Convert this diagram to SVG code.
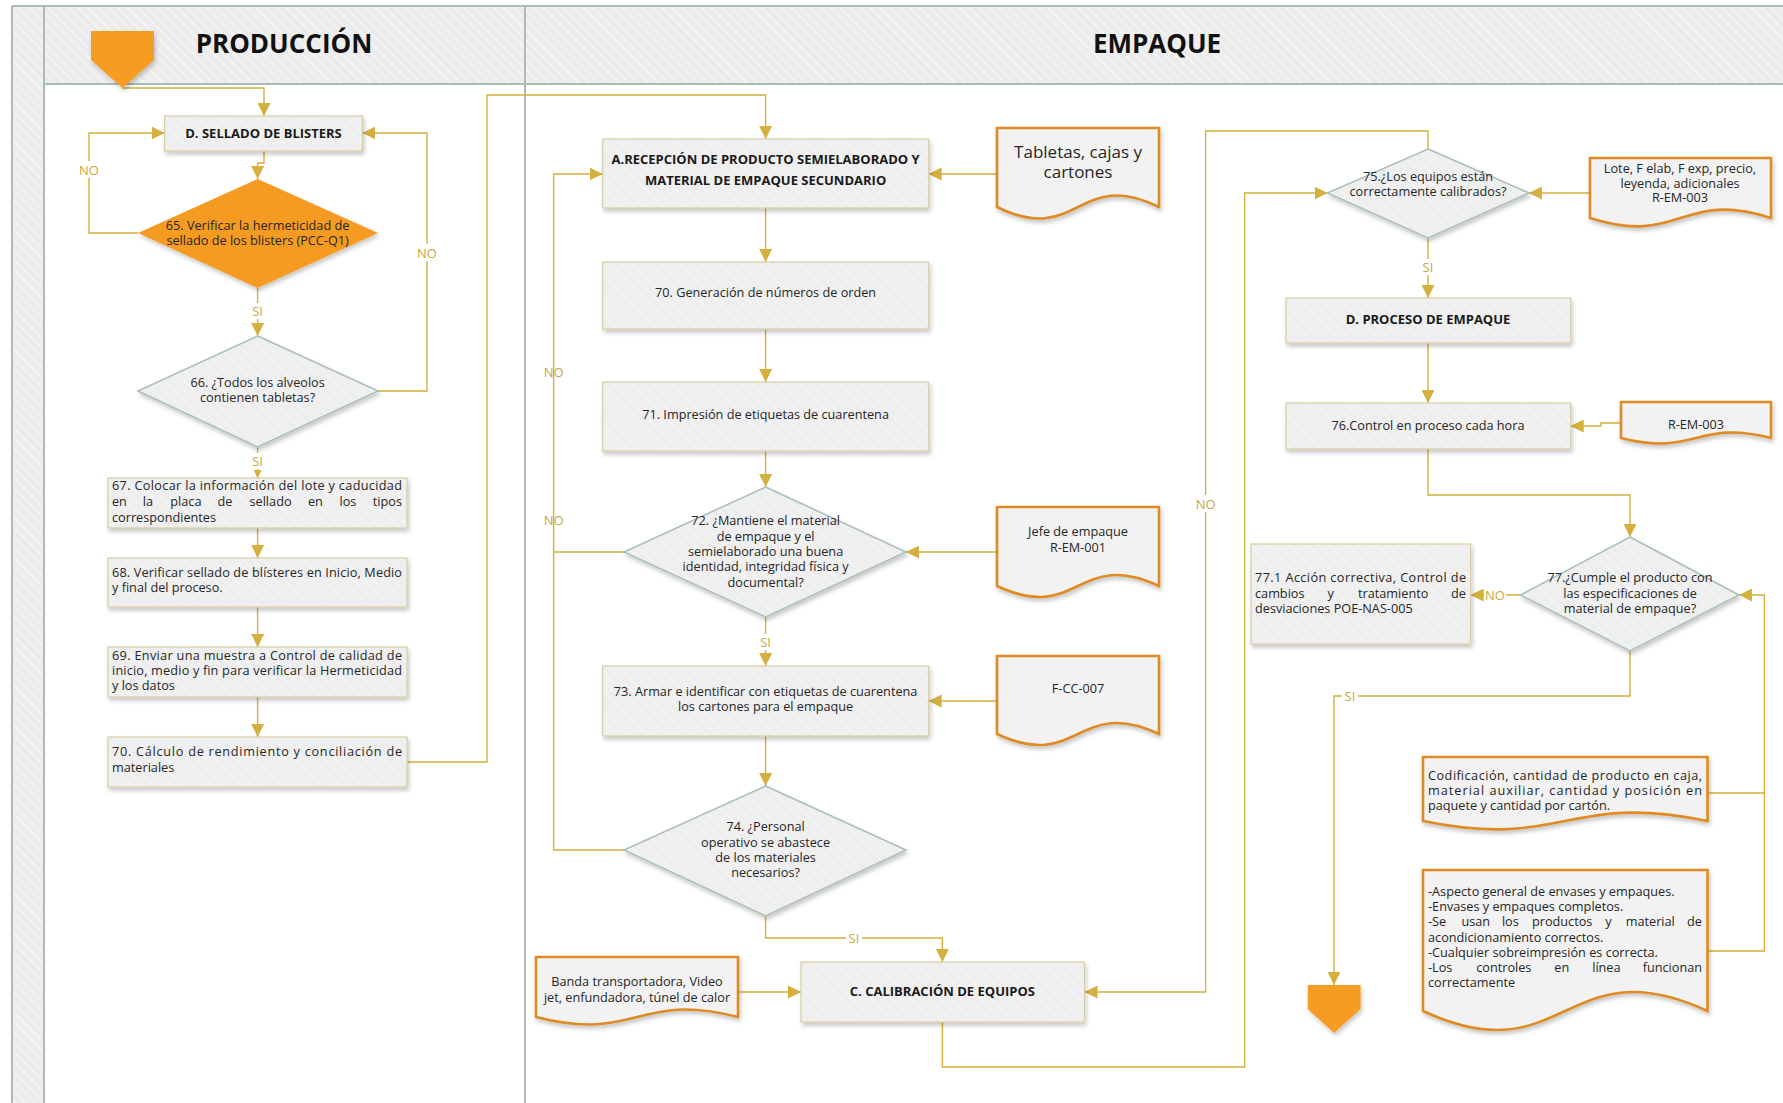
<svg xmlns="http://www.w3.org/2000/svg" width="1783" height="1103" viewBox="0 0 1783 1103">
  <defs>
    <pattern id="hatch" width="7" height="7" patternUnits="userSpaceOnUse" patternTransform="rotate(-45)">
      <rect width="7" height="7" fill="#ececec"/>
      <rect width="1.6" height="7" fill="#f5f5f5"/>
    </pattern>
    <pattern id="hatchBox" width="7" height="7" patternUnits="userSpaceOnUse" patternTransform="rotate(-45)">
      <rect width="7" height="7" fill="#eeeeee"/>
      <rect width="1.4" height="7" fill="#f4f4f4"/>
    </pattern>
    <filter id="shadow" x="-10%" y="-10%" width="125%" height="135%">
      <feDropShadow dx="1.5" dy="3" stdDeviation="2" flood-color="#000" flood-opacity="0.22"/>
    </filter>
    <marker id="ah" viewBox="0 0 13 13" refX="13" refY="6.5" markerWidth="13" markerHeight="13" orient="auto" markerUnits="userSpaceOnUse">
      <path d="M0,0 L13,6.5 L0,13 z" fill="#d4b03e"/>
    </marker>
    <marker id="ahs" viewBox="0 0 8 8" refX="8" refY="4" markerWidth="8" markerHeight="8" orient="auto" markerUnits="userSpaceOnUse">
      <path d="M0,0 L8,4 L0,8 z" fill="#d4b03e"/>
    </marker>
  </defs>
  <style>
    .lane { stroke: #a9bcb7; stroke-width: 2; fill: none; }
    .box { fill: url(#hatchBox); stroke: #d8cda6; stroke-width: 1.2; filter: url(#shadow); }
    .dia { fill: url(#hatchBox); stroke: #a8c0b6; stroke-width: 1.5; filter: url(#shadow); }
    .doc { fill: #f2f2f2; stroke: #df8a24; stroke-width: 2.6; filter: url(#shadow); }
    .term { fill: #f79c20; filter: url(#shadow); }
    .con { fill: none; stroke: #d4b03e; stroke-width: 1.4; }
    .t { font-family: "Open Sans", "Noto Sans", sans-serif; font-size: 12.7px; fill: #262626; }
    .c { text-anchor: middle; }
    .e { text-anchor: end; }
    .b { font-weight: bold; font-size: 13px; fill: #1a1a1a; }
    .h { font-family: "Open Sans", "Noto Sans", sans-serif; font-weight: bold; font-size: 26px; fill: #111; text-anchor: middle; }
    .lbl { font-family: "Open Sans", "Noto Sans", sans-serif; font-size: 13px; fill: #c9a73a; text-anchor: middle; }
    .lblbg { fill: #ffffff; }
  </style>

  <!-- swimlane frame -->
  <g id="lanes">
    <rect x="0" y="0" width="1783" height="1103" fill="#ffffff"/>
    <rect x="12" y="6" width="32" height="1097" fill="url(#hatch)"/>
    <rect x="44" y="6" width="1739" height="78" fill="url(#hatch)"/>
    <path class="lane" d="M12,6 V1103 M44,6 V1103 M525,6 V1103 M12,6 H1783 M44,84 H1783"/>
    <text class="h" x="284" y="52.5">PRODUCCIÓN</text>
    <text class="h" x="1157" y="52.5">EMPAQUE</text>
  </g>

  <!-- connectors -->
  <g id="connectors">
    <path class="con" d="M122.5,88 H264 V116" marker-end="url(#ah)"/>
    <path class="con" d="M264,151 V163 H257.6 V179" marker-end="url(#ah)"/>
    <path class="con" d="M138,233 H89 V133 H164.6" marker-end="url(#ah)"/>
    <path class="con" d="M257.6,288 V336" marker-end="url(#ah)"/>
    <path class="con" d="M378,391 H427 V133 H362.4" marker-end="url(#ah)"/>
    <path class="con" d="M257.6,447 V478" marker-end="url(#ahs)"/>
    <path class="con" d="M257.6,528 V558" marker-end="url(#ah)"/>
    <path class="con" d="M257.6,607 V647" marker-end="url(#ah)"/>
    <path class="con" d="M257.6,697 V737" marker-end="url(#ah)"/>
    <path class="con" d="M407,762 H487 V95 H765.6 V139" marker-end="url(#ah)"/>
    <path class="con" d="M997,174 H928.6" marker-end="url(#ah)"/>
    <path class="con" d="M765.6,208 V262" marker-end="url(#ah)"/>
    <path class="con" d="M765.6,329 V382" marker-end="url(#ah)"/>
    <path class="con" d="M765.6,451 V487" marker-end="url(#ah)"/>
    <path class="con" d="M624,552 H553.6 V174 H602.7" marker-end="url(#ah)"/>
    <path class="con" d="M624,850 H553.6 V552"/>
    <path class="con" d="M997,552 H906" marker-end="url(#ah)"/>
    <path class="con" d="M765.6,617 V666" marker-end="url(#ah)"/>
    <path class="con" d="M997,701 H928.6" marker-end="url(#ah)"/>
    <path class="con" d="M765.6,736 V786" marker-end="url(#ah)"/>
    <path class="con" d="M765.6,916 V938 H942.4 V962" marker-end="url(#ah)"/>
    <path class="con" d="M738,992 H801" marker-end="url(#ah)"/>
    <path class="con" d="M1428,149 V131 H1205.6 V992 H1084.5" marker-end="url(#ah)"/>
    <path class="con" d="M942.4,1022 V1067 H1244.6 V193 H1327.5" marker-end="url(#ah)"/>
    <path class="con" d="M1589.6,193 H1529" marker-end="url(#ah)"/>
    <path class="con" d="M1428,238 V298" marker-end="url(#ah)"/>
    <path class="con" d="M1428,343 V403" marker-end="url(#ah)"/>
    <path class="con" d="M1621,423 H1600.8 V426 H1570.7" marker-end="url(#ah)"/>
    <path class="con" d="M1428,449 V495 H1630 V537" marker-end="url(#ah)"/>
    <path class="con" d="M1520.5,595 H1470.7" marker-end="url(#ah)"/>
    <path class="con" d="M1630,651 V696 H1334 V985" marker-end="url(#ah)"/>
    <path class="con" d="M1707.5,793 H1764.4 V595 H1739" marker-end="url(#ah)"/>
    <path class="con" d="M1707.5,951 H1764.4 V793"/>

    <!-- branch labels -->
    <rect class="lblbg" x="78" y="161" width="22" height="17"/>
    <text class="lbl" x="89" y="175">NO</text>
    <rect class="lblbg" x="416" y="244" width="22" height="17"/>
    <text class="lbl" x="427" y="258">NO</text>
    <rect class="lblbg" x="250" y="303" width="15" height="16"/>
    <text class="lbl" x="257.6" y="316">SI</text>
    <rect class="lblbg" x="250" y="453" width="15" height="16"/>
    <text class="lbl" x="257.6" y="466">SI</text>
    <text class="lbl" x="553.6" y="377">NO</text>
    <text class="lbl" x="553.6" y="525">NO</text>
    <rect class="lblbg" x="758" y="634" width="15" height="16"/>
    <text class="lbl" x="765.6" y="647">SI</text>
    <rect class="lblbg" x="846" y="930" width="16" height="16"/>
    <text class="lbl" x="854" y="943">SI</text>
    <rect class="lblbg" x="1195" y="495" width="22" height="17"/>
    <text class="lbl" x="1205.6" y="509">NO</text>
    <rect class="lblbg" x="1420" y="259" width="16" height="16"/>
    <text class="lbl" x="1428" y="272">SI</text>
    <rect class="lblbg" x="1484" y="587" width="22" height="16"/>
    <text class="lbl" x="1495" y="600">NO</text>
    <rect class="lblbg" x="1342" y="688" width="16" height="16"/>
    <text class="lbl" x="1350" y="701">SI</text>
  </g>

  <!-- PRODUCCIÓN lane -->
  <g id="start">
    <path class="term" d="M91,31 H154 V60 L122.5,88 L91,60 Z"/>
  </g>
  <g id="n-sellado">
    <rect class="box" x="164.6" y="116" width="197.8" height="35"/>
    <text class="t b c" x="263.5" y="138">D. SELLADO DE BLISTERS</text>
  </g>
  <g id="n65">
    <path d="M257.6,179 L378,233 L257.6,288 L138,233 Z" fill="#f59b22" filter="url(#shadow)"/>
    <text class="t c" x="257.6" y="229.5">65. Verificar la hermeticidad de</text>
    <text class="t c" x="257.6" y="244.5">sellado de los blisters (PCC-Q1)</text>
  </g>
  <g id="n66">
    <path class="dia" d="M257.6,336 L378,391 L257.6,447 L138,391 Z"/>
    <text class="t c" x="257.6" y="387">66. ¿Todos los alveolos</text>
    <text class="t c" x="257.6" y="402">contienen tabletas?</text>
  </g>
  <g id="n67">
    <rect class="box" x="108" y="478" width="299" height="50"/>
    <text class="t" x="112" y="489.5" textLength="290" lengthAdjust="spacing">67. Colocar la información del lote y caducidad</text>
    <text class="t" y="505.5"><tspan x="112">en</tspan><tspan x="142.7">la</tspan><tspan x="170.3">placa</tspan><tspan x="217.4">de</tspan><tspan x="249.5">sellado</tspan><tspan x="308">en</tspan><tspan x="339.5">los</tspan></text>
    <text class="t e" x="402" y="505.5">tipos</text>
    <text class="t" x="112" y="521.5">correspondientes</text>
  </g>
  <g id="n68">
    <rect class="box" x="108" y="558" width="299" height="49"/>
    <text class="t" x="112" y="577" textLength="290" lengthAdjust="spacing">68. Verificar sellado de blísteres en Inicio, Medio</text>
    <text class="t" x="112" y="592">y final del proceso.</text>
  </g>
  <g id="n69">
    <rect class="box" x="108" y="647" width="299" height="50"/>
    <text class="t" x="112" y="660" textLength="290" lengthAdjust="spacing">69. Enviar una muestra a Control de calidad de</text>
    <text class="t" x="112" y="675" textLength="290" lengthAdjust="spacing">inicio, medio y fin para verificar la Hermeticidad</text>
    <text class="t" x="112" y="690">y los datos</text>
  </g>
  <g id="n70p">
    <rect class="box" x="108" y="737" width="299" height="50"/>
    <text class="t" x="112" y="756" textLength="290" lengthAdjust="spacing">70. Cálculo de rendimiento y conciliación de</text>
    <text class="t" x="112" y="772">materiales</text>
  </g>

  <!-- EMPAQUE lane: reception and labelling -->
  <g id="nA">
    <rect class="box" x="602.7" y="139" width="326" height="69"/>
    <text class="t b c" x="765.6" y="163.5">A.RECEPCIÓN DE PRODUCTO SEMIELABORADO Y</text>
    <text class="t b c" x="765.6" y="184.5">MATERIAL DE EMPAQUE SECUNDARIO</text>
  </g>
  <g id="doc-tabletas">
    <path class="doc" d="M997,128 H1159 V207 C1078,167 1078,247 997,207 Z"/>
    <text class="t c" x="1078" y="158" style="font-size:17px">Tabletas, cajas y</text>
    <text class="t c" x="1078" y="178" style="font-size:17px">cartones</text>
  </g>
  <g id="n70e">
    <rect class="box" x="602.7" y="262" width="326" height="67"/>
    <text class="t c" x="765.6" y="297">70. Generación de números de orden</text>
  </g>
  <g id="n71">
    <rect class="box" x="602.7" y="382" width="326" height="69"/>
    <text class="t c" x="765.6" y="419">71. Impresión de etiquetas de cuarentena</text>
  </g>
  <g id="n72">
    <path class="dia" d="M765.6,487 L906,552 L765.6,617 L624,552 Z"/>
    <text class="t c" x="765.6" y="525">72. ¿Mantiene el material</text>
    <text class="t c" x="765.6" y="540.5">de empaque y el</text>
    <text class="t c" x="765.6" y="556">semielaborado una buena</text>
    <text class="t c" x="765.6" y="571">identidad, integridad física y</text>
    <text class="t c" x="765.6" y="586.5">documental?</text>
  </g>
  <g id="doc-jefe">
    <path class="doc" d="M997,507 H1159 V586 C1078,548 1078,624 997,586 Z"/>
    <text class="t c" x="1078" y="536">Jefe de empaque</text>
    <text class="t c" x="1078" y="552">R-EM-001</text>
  </g>
  <g id="n73">
    <rect class="box" x="602.7" y="666" width="326" height="70"/>
    <text class="t c" x="765.6" y="696">73. Armar e identificar con etiquetas de cuarentena</text>
    <text class="t c" x="765.6" y="711">los cartones para el empaque</text>
  </g>
  <g id="doc-fcc007">
    <path class="doc" d="M997,656 H1159 V734 C1078,696 1078,772 997,734 Z"/>
    <text class="t c" x="1078" y="693">F-CC-007</text>
  </g>
  <g id="n74">
    <path class="dia" d="M765.6,786 L906,850 L765.6,916 L624,850 Z"/>
    <text class="t c" x="765.6" y="831">74. ¿Personal</text>
    <text class="t c" x="765.6" y="846.5">operativo se abastece</text>
    <text class="t c" x="765.6" y="862">de los materiales</text>
    <text class="t c" x="765.6" y="876.5">necesarios?</text>
  </g>

  <!-- EMPAQUE lane: calibration and packing -->
  <g id="doc-banda">
    <path class="doc" d="M536,957 H738 V1017 C637,991 637,1043 536,1017 Z"/>
    <text class="t c" x="637" y="986">Banda transportadora, Video</text>
    <text class="t c" x="637" y="1002">jet, enfundadora, túnel de calor</text>
  </g>
  <g id="nC">
    <rect class="box" x="801" y="962" width="283.5" height="60"/>
    <text class="t b c" x="942.4" y="995.5">C. CALIBRACIÓN DE EQUIPOS</text>
  </g>
  <g id="n75">
    <path class="dia" d="M1428,149 L1529,193 L1428,238 L1327.5,193 Z"/>
    <text class="t c" x="1428" y="181">75.¿Los equipos están</text>
    <text class="t c" x="1428" y="195.5">correctamente calibrados?</text>
  </g>
  <g id="doc-lote">
    <path class="doc" d="M1590,158 H1771 V218 C1680.5,189 1680.5,247 1590,218 Z"/>
    <text class="t c" x="1680" y="173">Lote, F elab, F exp, precio,</text>
    <text class="t c" x="1680" y="187.5">leyenda, adicionales</text>
    <text class="t c" x="1680" y="202">R-EM-003</text>
  </g>
  <g id="nD">
    <rect class="box" x="1286" y="298" width="284.7" height="45"/>
    <text class="t b c" x="1428" y="323.5">D. PROCESO DE EMPAQUE</text>
  </g>
  <g id="n76">
    <rect class="box" x="1286" y="403" width="284.7" height="46"/>
    <text class="t c" x="1428" y="429.5">76.Control en proceso cada hora</text>
  </g>
  <g id="doc-rem003">
    <path class="doc" d="M1621,402 H1771 V438 C1696,419 1696,457 1621,438 Z"/>
    <text class="t c" x="1696" y="428.5">R-EM-003</text>
  </g>
  <g id="n77">
    <path class="dia" d="M1630,537 L1739,595 L1630,651 L1520.5,595 Z"/>
    <text class="t c" x="1630" y="582">77.¿Cumple el producto con</text>
    <text class="t c" x="1630" y="597.5">las especificaciones de</text>
    <text class="t c" x="1630" y="613">material de empaque?</text>
  </g>
  <g id="n771">
    <rect class="box" x="1251" y="544" width="219.7" height="100"/>
    <text class="t" x="1255" y="582" textLength="211" lengthAdjust="spacing">77.1 Acción correctiva, Control de</text>
    <text class="t" y="597.5"><tspan x="1255">cambios</tspan><tspan x="1327.5">y</tspan><tspan x="1358">tratamiento</tspan></text>
    <text class="t e" x="1466" y="597.5">de</text>
    <text class="t" x="1255" y="613">desviaciones POE-NAS-005</text>
  </g>
  <g id="doc-codificacion">
    <path class="doc" d="M1423,757 H1707.5 V821 C1565,792 1565,850 1423,821 Z"/>
    <text class="t" x="1428" y="780" textLength="274" lengthAdjust="spacing">Codificación, cantidad de producto en caja,</text>
    <text class="t" x="1428" y="795" textLength="274" lengthAdjust="spacing">material auxiliar, cantidad y posición en</text>
    <text class="t" x="1428" y="810">paquete y cantidad por cartón.</text>
  </g>
  <g id="doc-aspecto">
    <path class="doc" d="M1423,870 H1707.5 V1011 C1565,945 1565,1077 1423,1011 Z"/>
    <text class="t" x="1428" y="896">-Aspecto general de envases y empaques.</text>
    <text class="t" x="1428" y="911">-Envases y empaques completos.</text>
    <text class="t" y="926"><tspan x="1428">-Se</tspan><tspan x="1461.4">usan</tspan><tspan x="1501.9">los</tspan><tspan x="1532">productos</tspan><tspan x="1605.3">y</tspan><tspan x="1625.7">material</tspan></text>
    <text class="t e" x="1702" y="926">de</text>
    <text class="t" x="1428" y="942">acondicionamiento correctos.</text>
    <text class="t" x="1428" y="957">-Cualquier sobreimpresión es correcta.</text>
    <text class="t" y="972"><tspan x="1428">-Los</tspan><tspan x="1476.2">controles</tspan><tspan x="1554.3">en</tspan><tspan x="1592.2">línea</tspan></text>
    <text class="t e" x="1702" y="972">funcionan</text>
    <text class="t" x="1428" y="987">correctamente</text>
  </g>
  <g id="end">
    <path class="term" d="M1307.8,985 H1360.6 V1009 L1334,1033 L1307.8,1009 Z"/>
  </g>
</svg>
